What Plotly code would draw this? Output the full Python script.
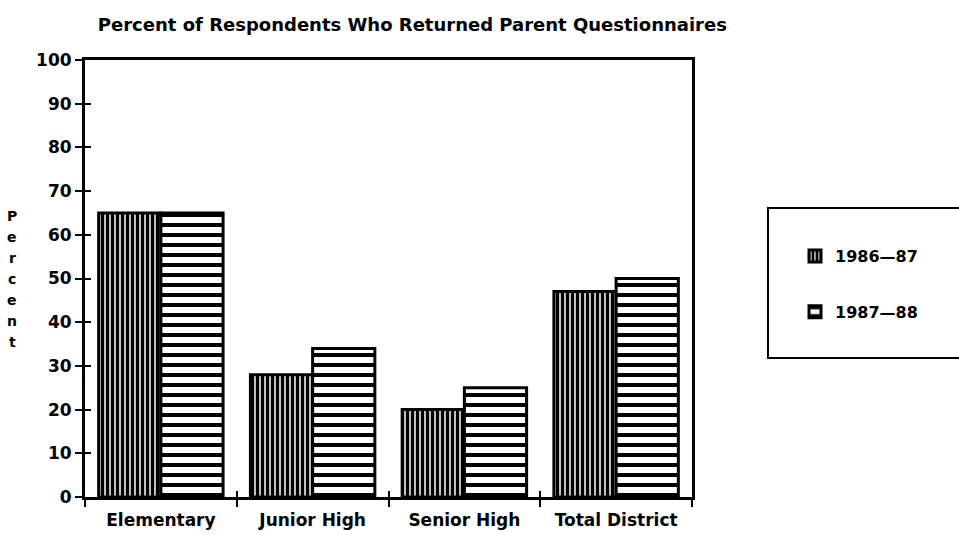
import plotly.graph_objects as go

# ---- data ----
categories = ["Elementary", "Junior High", "Senior High", "Total District"]
series_names = ["1986—87", "1987—88"]
values_8687 = [65, 28, 20, 47]
values_8788 = [65, 34, 25, 50]
y_ticks = [0, 10, 20, 30, 40, 50, 60, 70, 80, 90, 100]
title_text = "Percent of Respondents Who Returned Parent Questionnaires"
y_title = "Percent"

FONT = "DejaVu Sans"

fig = go.Figure()
fig.add_trace(go.Bar(
    x=categories, y=values_8687, name=series_names[0], legendgroup="a",
    marker=dict(color="white", line=dict(color="black", width=3),
                pattern=dict(shape="|", size=5, solidity=0.7, fgopacity=1,
                             fillmode="replace",
                             fgcolor="black", bgcolor="white")),
))
fig.add_trace(go.Bar(
    x=categories, y=values_8788, name=series_names[1], legendgroup="b",
    marker=dict(color="white", line=dict(color="black", width=3),
                pattern=dict(shape="-", size=10, solidity=0.4, fgopacity=1,
                             fillmode="replace",
                             fgcolor="black", bgcolor="white")),
))

# vertical stacked y title
letter_top = (497 - 216) / 437
letter_step = 21 / 437
annotations = []
for i, ch in enumerate(y_title):
    annotations.append(dict(
        text=ch, xref="paper", yref="paper", x=-0.12, y=letter_top - i * letter_step,
        showarrow=False, xanchor="center", yanchor="middle",
        font=dict(family=FONT, size=14, color="black", weight="bold")))

fig.update_layout(
    width=959, height=535,
    margin=dict(l=85, r=267, t=60, b=38),
    paper_bgcolor="white", plot_bgcolor="white",
    barmode="group", bargap=0.18, bargroupgap=0.0,
    font=dict(family=FONT, size=15, color="black", weight="bold"),
    title=dict(text=title_text, x=0.43, xanchor="center", y=1 - 25 / 535,
               yanchor="middle", font=dict(family=FONT, size=18, weight="bold")),
    xaxis=dict(type="category", showline=True, linecolor="black", linewidth=3,
               mirror=True, ticks="outside", tickson="boundaries", ticklen=7,
               tickwidth=2, tickcolor="black", showgrid=False, automargin=False,
               ticklabelstandoff=6,
               tickfont=dict(family=FONT, size=17, weight="bold")),
    yaxis=dict(range=[0, 100], tickvals=y_ticks, showline=True, linecolor="black",
               linewidth=3, mirror=True, ticks="outside", ticklen=7, tickwidth=2,
               tickcolor="black", showgrid=False, zeroline=False, automargin=False,
               ticklabelstandoff=0,
               tickfont=dict(family=FONT, size=17, weight="bold")),
    xaxis2=dict(overlaying="x", anchor="y", range=[-0.5, 3.5], tick0=-0.5, dtick=1,
                ticks="inside", ticklen=6, tickwidth=2, tickcolor="black",
                showticklabels=False, showline=False, showgrid=False, zeroline=False),
    yaxis2=dict(overlaying="y", anchor="x", side="left", range=[0, 100], tick0=0,
                dtick=10, ticks="inside", ticklen=6, tickwidth=2, tickcolor="black",
                showticklabels=False, showline=False, showgrid=False, zeroline=False),
    legend=dict(x=(795 - 85) / 607, xanchor="left", y=(497 - 239) / 437,
                yanchor="top", traceorder="grouped", tracegroupgap=32,
                bgcolor="rgba(0,0,0,0)", borderwidth=0,
                font=dict(family=FONT, size=16, weight="bold")),
    shapes=[dict(type="rect", xref="paper", yref="paper",
                 x0=(768 - 85) / 607, x1=(962 - 85) / 607,
                 y0=(497 - 358) / 437, y1=(497 - 208) / 437,
                 line=dict(color="black", width=2))],
    annotations=annotations,
)

# dummy invisible trace so the overlay axes are drawn
fig.add_trace(go.Scatter(x=[None], y=[None], xaxis="x2", yaxis="y2",
                         showlegend=False, hoverinfo="skip"))

fig.write_html("out.html", config={"displayModeBar": False},
               post_script="document.body.style.margin='0';document.body.style.padding='0';")
